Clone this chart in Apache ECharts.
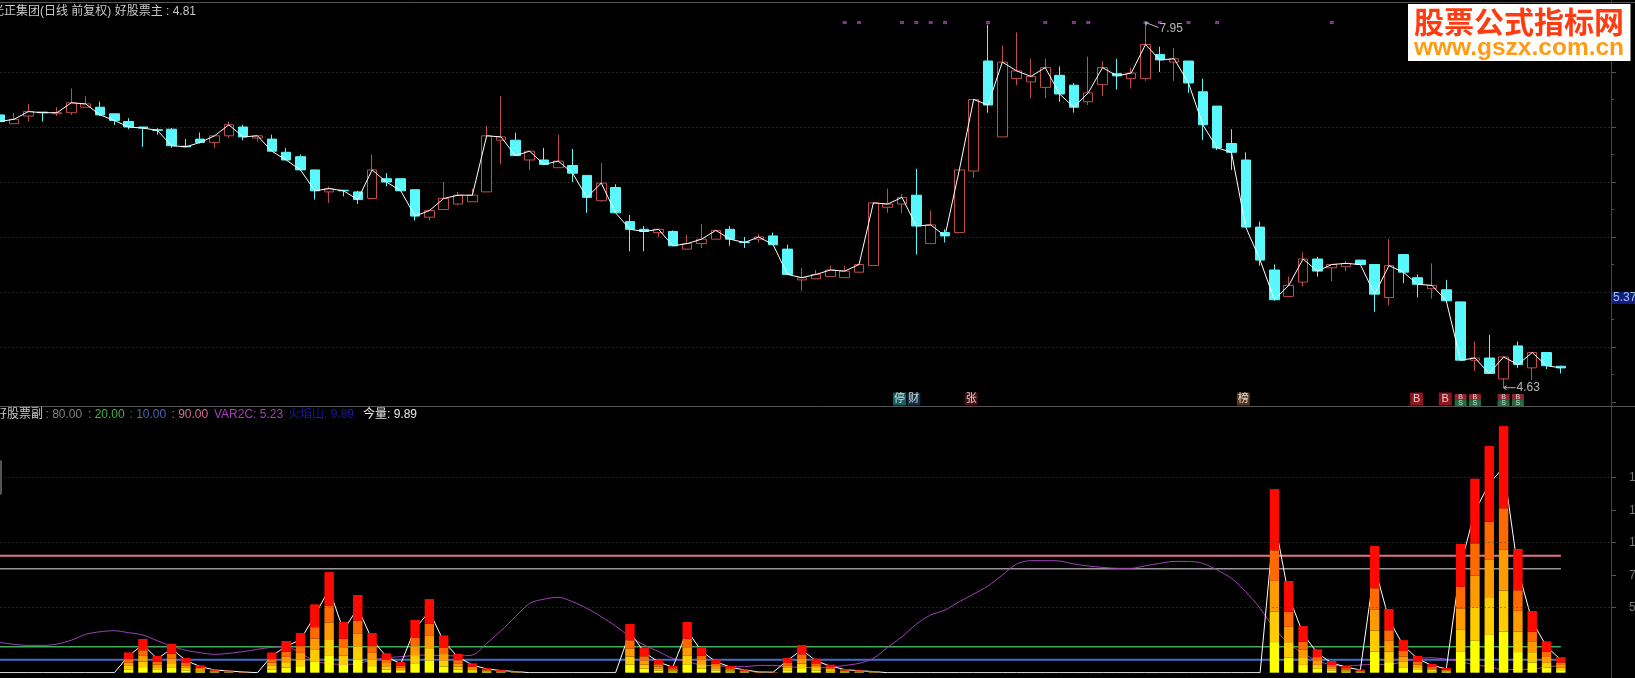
<!DOCTYPE html>
<html><head><meta charset="utf-8">
<style>html,body{margin:0;padding:0;background:#000}#c{width:1635px;height:678px}</style>
<script src="https://cdn.jsdelivr.net/npm/echarts@6/dist/echarts.min.js"></script>
</head><body><div id="c"></div>
<script>
// [open, close, low, high]
const candles = [
[7.11,7.05,7.04,7.11],[7.03,7.07,7.03,7.13],[7.10,7.14,7.05,7.21],[7.135,7.13,7.05,7.135],[7.12,7.13,7.10,7.18],
[7.13,7.22,7.11,7.35],[7.18,7.21,7.18,7.28],[7.18,7.11,7.10,7.23],[7.12,7.06,7.02,7.12],[7.05,7.00,6.98,7.08],
[7.00,6.99,6.82,7.00],[6.975,6.97,6.93,6.99],[6.98,6.83,6.81,6.99],[6.825,6.82,6.82,6.89],[6.89,6.86,6.85,6.95],
[6.86,6.92,6.81,6.92],[6.92,7.02,6.90,7.05],[7.00,6.91,6.88,7.02],[6.90,6.92,6.87,6.92],[6.89,6.78,6.78,6.93],
[6.77,6.70,6.70,6.81],[6.73,6.61,6.61,6.75],[6.61,6.42,6.34,6.61],[6.41,6.44,6.31,6.46],[6.425,6.42,6.37,6.425],
[6.41,6.34,6.30,6.42],[6.35,6.61,6.35,6.75],[6.53,6.50,6.46,6.58],[6.53,6.42,6.42,6.53],[6.43,6.19,6.15,6.43],
[6.18,6.24,6.15,6.25],[6.25,6.35,6.25,6.50],[6.30,6.38,6.29,6.41],[6.32,6.38,6.32,6.44],[6.41,6.92,6.41,7.01],
[6.88,6.91,6.66,7.28],[6.88,6.74,6.74,6.95],[6.70,6.78,6.61,6.78],[6.70,6.66,6.66,6.81],[6.63,6.69,6.63,6.93],
[6.65,6.58,6.50,6.80],[6.56,6.36,6.22,6.56],[6.33,6.49,6.32,6.67],[6.45,6.22,6.22,6.48],[6.14,6.07,5.87,6.20],
[6.07,6.05,5.87,6.10],[6.04,6.07,6.00,6.07],[6.05,5.92,5.92,6.06],[5.89,5.94,5.89,6.02],[5.94,5.98,5.90,6.12],
[5.98,6.06,5.98,6.06],[6.07,5.98,5.92,6.10],[5.955,5.95,5.90,6.00],[5.98,6.00,5.95,6.03],[6.01,5.93,5.93,6.04],
[5.89,5.66,5.66,5.93],[5.61,5.63,5.51,5.72],[5.62,5.66,5.62,5.70],[5.64,5.70,5.64,5.74],[5.63,5.69,5.63,5.74],
[5.68,5.75,5.68,5.75],[5.74,6.31,5.74,6.31],[6.27,6.30,6.22,6.44],[6.30,6.36,6.22,6.39],[6.38,6.10,5.84,6.62],
[5.94,6.11,5.94,6.24],[6.04,6.01,5.95,6.07],[6.04,6.61,6.04,6.61],[6.60,7.25,6.54,7.25],[7.60,7.20,7.13,7.93],
[6.91,7.59,6.91,7.74],[7.44,7.51,7.38,7.86],[7.41,7.46,7.26,7.62],[7.36,7.54,7.26,7.62],[7.47,7.30,7.23,7.55],
[7.38,7.18,7.13,7.40],[7.23,7.31,7.20,7.64],[7.385,7.54,7.28,7.60],[7.485,7.465,7.34,7.62],[7.44,7.49,7.35,7.54],
[7.44,7.75,7.42,7.95],[7.66,7.61,7.50,7.73],[7.59,7.62,7.42,7.72],[7.60,7.40,7.31,7.60],[7.32,7.02,6.88,7.44],
[7.19,6.81,6.79,7.19],[6.85,6.77,6.61,6.98],[6.70,6.09,6.09,6.77],[6.09,5.79,5.74,6.14],[5.70,5.43,5.42,5.75],
[5.46,5.56,5.46,5.64],[5.59,5.80,5.55,5.86],[5.80,5.69,5.64,5.82],[5.72,5.75,5.60,5.75],[5.73,5.76,5.69,5.78],
[5.79,5.75,5.75,5.79],[5.75,5.48,5.32,5.75],[5.45,5.74,5.38,5.98],[5.84,5.68,5.58,5.84],[5.63,5.57,5.45,5.66],
[5.53,5.56,5.44,5.76],[5.52,5.42,5.42,5.61],[5.41,4.88,4.88,5.41],[4.88,4.90,4.78,5.05],[4.90,4.76,4.76,5.11],
[4.71,4.91,4.63,4.91],[5.01,4.84,4.81,5.05],[4.81,4.95,4.70,4.95],[4.95,4.83,4.80,4.95],[4.825,4.81,4.76,4.83]
];
const volume = [
0,0,0,0,0,0,0,0,0,13.0,21.6,10.7,18.4,9.4,4.7,2.1,1.3,0.6,0,13.0,
20.3,25.4,43.8,64.5,32.5,49.8,25.4,12.4,6.8,33.8,47.2,23.9,12.0,6.0,2.8,1.7,0.9,0,0,0,
0,0,0,0,31.2,15.8,8.1,4.3,32.5,16.5,8.5,4.3,2.1,0.6,0.4,9.4,17.7,9.0,5.1,2.4,
1.5,0.9,0,0,0,0,0,0,0,0,0,0,0,0,0,0,0,0,0,0,
0,0,0,0,0,0,0,0,0,117.7,58.8,29.9,15.0,7.5,4.3,2.1,81.2,40.8,20.9,10.7,
5.6,3.0,82.5,124.4,145.3,158.1,79.3,39.5,20.1,9.89
];
const var2c = [
23.3,21.8,21,21,22,25,29.5,31.5,32.3,30.8,29,24.6,20.5,17.2,15.4,14.1,14.9,16.2,18,19.5,
20,15,9,7,6.4,7,9.7,11.5,12.3,13.3,13.6,13,13,13.6,22.6,32.3,43,53.3,56.6,58,
54.6,49.5,43.1,35.9,27.7,21.3,16.2,11,8.5,5.9,5.4,4.9,4.6,5.6,5.6,4.6,4.1,3.8,4.1,5.6,
7.2,11,19.5,27.7,37.4,44.4,48.2,54.6,60.5,66.7,75.1,83.6,86.2,86.2,85.9,83.6,82.1,81.0,80.3,80.3,
82.3,84.1,85.6,85.6,84.1,79,72.6,62.3,49.5,34.1,22.6,14.9,9.2,5.9,5.1,5.9,6.4,6.4,8.5,11,
11.5,10.3,8.5,5.9,4.6,2.1,2.6,2.6,4.6,5.23
];
const levels = [90, 80, 20, 10];
const levelColors = ['#e8708c', '#9c969c', '#3fae5a', '#3f6fd0'];
const levelWidths = [2, 1.5, 1.5, 2];
const segmentShares = [0.2, 0.2, 0.2, 0.2, 0.4];
const segmentColors = ['#ffff00', '#ffcc00', '#ff9a00', '#ff6a00', '#ff0a00'];
const signalDots = [59,60,63,64,65,66,69,73,75,76,80,81,83,85,93];
const signalPrice = 7.95;
const badgeIdx = [63,64,68,87,99,101];
const badgeText = ['停','财','张','榜','B','B'];
const badgeColors = ['#16767c','#123c58','#5a1014','#6b4420','#b01c24','#b01c24'];
const badgeShift = [-2.5,-2.5,-2.5,-2.5,-1,-1];
const bsIdx = [102,103,105,106];
const volumeTicks = [50,75,100,125,150];
const highMark = [80, 7.95];
const lowMark = [105, 4.63];

const total = 113;
const cats = Array.from({length: total}, (_, i) => String(i));
const closes = candles.map(c => c[1]);
const font = '"Liberation Sans","Noto Sans CJK SC",sans-serif';
const chart = echarts.init(document.getElementById('c'), null, {renderer: 'canvas'});

const header = (x, y, text, fill) => ({type:'text', x, y, z:50, style:{text, fill, font:'12px ' + font, textVerticalAlign:'middle'}});
const hline = (x1,y1,x2,y2,stroke) => ({type:'line', z:1, shape:{x1,y1,x2,y2}, style:{stroke, lineWidth:1}});
const volumeGrid = [50,100,150];

const series = [
  {type:'candlestick', name:'k', xAxisIndex:0, yAxisIndex:0, data:candles, barWidth:10, z:3,
   itemStyle:{color:'#000', color0:'#58f8fc', borderColor:'#c04c4c', borderColor0:'#58f8fc', borderWidth:1}},
  {type:'line', name:'好股票主', xAxisIndex:0, yAxisIndex:0, data:closes, symbol:'none', z:4,
   lineStyle:{color:'#fff', width:1}},
  {type:'scatter', xAxisIndex:0, yAxisIndex:0, z:5, symbol:'rect', symbolSize:[4,3], clip:false,
   data:signalDots.map(i=>[i,signalPrice]), itemStyle:{color:'#a040c0'}},
  {type:'scatter', xAxisIndex:0, yAxisIndex:0, z:5, symbol:'rect', symbolSize:[13,13], clip:false,
   data:badgeIdx.map((i,k)=>({value:[i,4.527], symbolOffset:[badgeShift[k],0], itemStyle:{color:badgeColors[k]},
     label:{show:true, formatter:badgeText[k], color:'#fff', fontSize:11, fontFamily:font}}))},
  {type:'scatter', xAxisIndex:0, yAxisIndex:0, z:5, symbol:'rect', symbolSize:[12,6], clip:false,
   data:bsIdx.map(i=>({value:[i,4.545], itemStyle:{color:'#b03038'},
     label:{show:true, formatter:'B', color:'#fff', fontSize:7, fontFamily:font}}))},
  {type:'scatter', xAxisIndex:0, yAxisIndex:0, z:5, symbol:'rect', symbolSize:[12,6], clip:false,
   data:bsIdx.map(i=>({value:[i,4.49], itemStyle:{color:'#2c8a50'},
     label:{show:true, formatter:'S', color:'#fff', fontSize:7, fontFamily:font}}))},
];
levels.forEach((v,k)=>series.push({type:'line', xAxisIndex:1, yAxisIndex:1, symbol:'none', z:1,
  data:candles.map(()=>v), lineStyle:{color:levelColors[k], width:levelWidths[k]}}));
series.push({type:'line', name:'VAR2C', xAxisIndex:1, yAxisIndex:1, data:var2c, symbol:'none', smooth:0.3, z:2,
  lineStyle:{color:'#a040b8', width:1},
  markLine:{silent:true, symbol:'none', label:{show:false}, animation:false,
    lineStyle:{color:'#484848', type:[1,3], width:1}, data:volumeGrid.map(v=>({yAxis:v}))}});
series.push({type:'line', name:'今量', xAxisIndex:1, yAxisIndex:1, data:volume, symbol:'none', z:3,
  lineStyle:{color:'#fff', width:1}});
segmentShares.forEach((s,k)=>series.push({type:'bar', xAxisIndex:1, yAxisIndex:1, stack:'vol', barWidth:9.4, z:4,
  data:volume.map(v=>v*s), itemStyle:{color:segmentColors[k]}}));

const option = {
  animation:false, backgroundColor:'#000',
  grid:[{left:-7.46, top:17, width:1618.46, height:385, outerBoundsMode:'none', containLabel:false},
        {left:-7.46, top:412.7, width:1618.46, height:260, outerBoundsMode:'none', containLabel:false}],
  xAxis:[0,1].map(g=>({type:'category', gridIndex:g, data:cats, boundaryGap:true, show:false})),
  yAxis:[
    {type:'value', gridIndex:0, position:'right', min:4.5, max:8, interval:0.5,
     axisLine:{show:false}, axisLabel:{show:false},
     axisTick:{show:true, length:5, lineStyle:{color:'#555'}},
     minorTick:{show:true, splitNumber:2, length:3, lineStyle:{color:'#555'}},
     splitLine:{show:true, showMinLine:false, showMaxLine:false, lineStyle:{color:'#484848', type:[1,3], width:1}}},
    {type:'value', gridIndex:1, position:'right', min:0, max:200, interval:25,
     axisLine:{show:false}, splitLine:{show:false},
     axisTick:{show:true, length:5, customValues:volumeTicks, lineStyle:{color:'#555'}},
     axisLabel:{show:true, margin:18, customValues:volumeTicks, color:'#777', fontSize:12, fontFamily:font, hideOverlap:false}}
  ],
  series,
  graphic:{elements:[
    hline(0,2.5,1635,2.5,'#555'),
    hline(0,406.5,1635,406.5,'#555'),
    hline(1611.5,0,1611.5,678,'#444'),
    {type:'rect', z:50, shape:{x:-3,y:460,width:5,height:35,r:2}, style:{fill:'#555'}},
    header(-8,12,'光正集团(日线 前复权) 好股票主 : 4.81','#c8c8c8'),
    header(-5,415,'好股票副','#c8c8c8'),
    header(45.5,415,': 80.00','#808080'),
    header(88,415,': 20.00','#46b04a'),
    header(129.5,415,': 10.00','#4a66b0'),
    header(171.5,415,': 90.00','#d8708c'),
    header(214,415,'VAR2C: 5.23','#a83cc0'),
    header(288,415,'火焰山: 9.89','#1a1aa0'),
    header(363,415,'今量: 9.89','#e8e8e8'),
    {type:'rect', z:50, shape:{x:1612,y:292,width:23,height:12}, style:{fill:'#141c80'}},
    {type:'text', z:51, x:1613, y:298, style:{text:'5.37', fill:'#9ec8e8', font:'12px '+font, textVerticalAlign:'middle'}},
    {type:'rect', z:60, shape:{x:1408,y:4,width:222.5,height:57}, style:{fill:'#fff'}},
    {type:'text', z:61, x:1519, y:22, style:{text:'股票公式指标网', fill:'#ff3c10', font:'bold 30px "Noto Sans CJK SC"', textAlign:'center', textVerticalAlign:'middle'}},
    {type:'text', z:61, x:1519, y:48, style:{text:'www.gszx.com.cn', fill:'#ff9c14', font:'bold 24.5px "Liberation Sans"', textAlign:'center', textVerticalAlign:'middle'}}
  ]}
};
chart.setOption(option);

const hi = chart.convertToPixel({xAxisIndex:0,yAxisIndex:0}, highMark);
const lo = chart.convertToPixel({xAxisIndex:0,yAxisIndex:0}, lowMark);
const note = (t,x,y)=>({type:'text', z:20, x, y, style:{text:t, fill:'#b8b8b8', font:'12px '+font, textVerticalAlign:'middle'}});
const seg = (x1,y1,x2,y2)=>({type:'line', z:20, shape:{x1,y1,x2,y2}, style:{stroke:'#b8b8b8', lineWidth:1}});
chart.setOption({graphic:{elements:option.graphic.elements.concat([
  seg(hi[0],hi[1],hi[0]+13,hi[1]+5), seg(hi[0],hi[1],hi[0]+3,hi[1]+0.5), seg(hi[0],hi[1],hi[0]+1,hi[1]+3),
  note(String(highMark[1]),hi[0]+14,hi[1]+6),
  seg(lo[0],lo[1],lo[0]+12,lo[1]), seg(lo[0],lo[1],lo[0]+3,lo[1]-2), seg(lo[0],lo[1],lo[0]+3,lo[1]+2),
  note(String(lowMark[1]),lo[0]+13,lo[1])
])}});
</script></body></html>
